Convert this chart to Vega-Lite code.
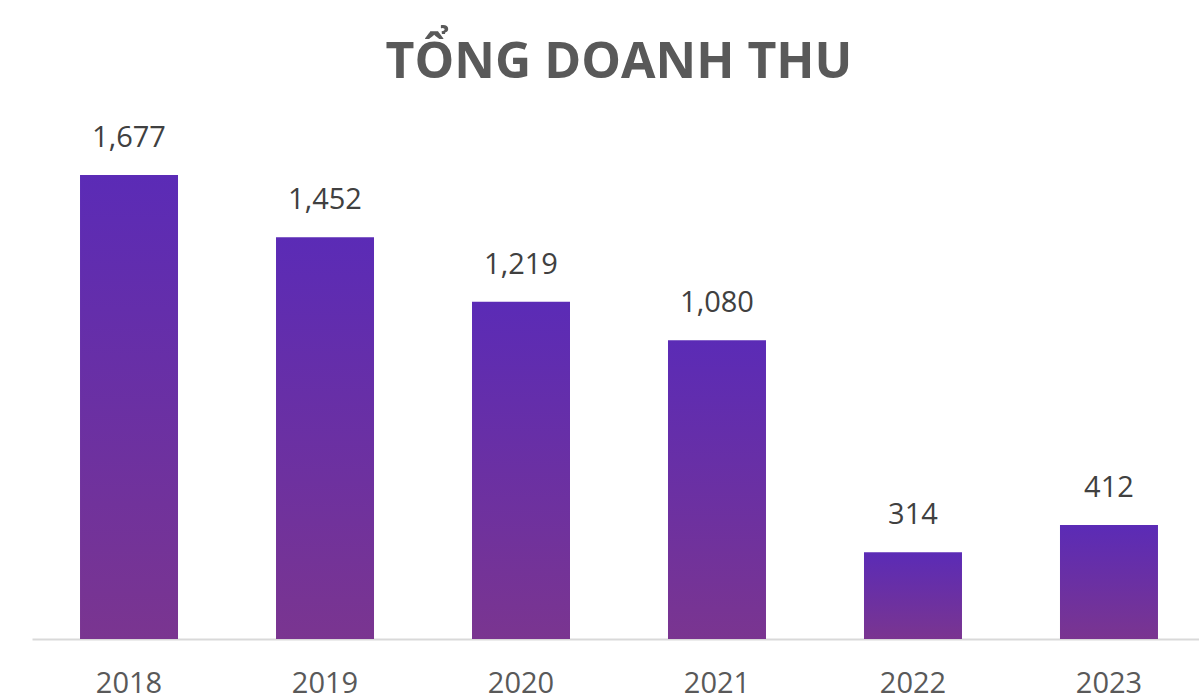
{
  "$schema": "https://vega.github.io/schema/vega-lite/v6.json",
  "autosize": "none",
  "width": 1174,
  "height": 498,
  "padding": {"left": 32, "top": 141, "right": 0, "bottom": 61},
  "background": "white",
  "config": {"view": {"stroke": null}},
  "title": {
    "text": "TỔNG DOANH THU",
    "font": "Open Sans",
    "fontSize": 50,
    "fontWeight": "bold",
    "color": "#595959",
    "anchor": "middle",
    "baseline": "alphabetic",
    "offset": -4
  },
  "data": {
    "values": [
      {"year": "2018", "value": 1677},
      {"year": "2019", "value": 1452},
      {"year": "2020", "value": 1219},
      {"year": "2021", "value": 1080},
      {"year": "2022", "value": 314},
      {"year": "2023", "value": 412}
    ]
  },
  "encoding": {
    "x": {
      "field": "year",
      "type": "ordinal",
      "scale": {"paddingInner": 0.5, "paddingOuter": 0.245},
      "axis": {
        "title": null,
        "labelAngle": 0,
        "labelFont": "Open Sans",
        "labelFontSize": 29,
        "labelColor": "#595959",
        "labelPadding": 30,
        "ticks": false,
        "domainColor": "#D9D9D9",
        "domainWidth": 2
      }
    },
    "y": {
      "field": "value",
      "type": "quantitative",
      "scale": {"domain": [0, 1800], "nice": false},
      "axis": null
    }
  },
  "layer": [
    {
      "mark": {
        "type": "bar",
        "color": {
          "gradient": "linear",
          "x1": 0, "y1": 0, "x2": 0, "y2": 1,
          "stops": [
            {"offset": 0, "color": "#5B2BB6"},
            {"offset": 1, "color": "#7A3590"}
          ]
        }
      }
    },
    {
      "mark": {
        "type": "text",
        "font": "Open Sans",
        "fontSize": 29,
        "color": "#404040",
        "baseline": "alphabetic",
        "dy": -28
      },
      "encoding": {
        "text": {"field": "value", "type": "quantitative", "format": ","}
      }
    }
  ]
}
